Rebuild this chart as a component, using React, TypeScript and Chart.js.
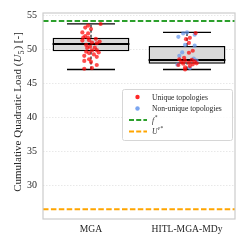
import React, { useEffect, useRef } from 'react';
import { Chart, registerables } from 'chart.js';
Chart.register(...registerables);

const categories = ['MGA', 'HITL-MGA-MDy'];
const boxQ1 = [49.66, 47.84];
const boxMedian = [50.74, 48.38];
const boxQ3 = [51.66, 50.44];
const whiskerLow = [47.0, 47.0];
const whiskerHigh = [53.7, 52.45];
const fStar = 54.12;
const uEpsStar = 26.43;
const yTicks = [30, 35, 40, 45, 50, 55];

const mgaUniqueValues = [53.68, 53.45, 53.15, 52.95, 52.45, 52.3, 51.9, 51.7, 51.65, 51.5, 51.25, 51.3, 51.1, 50.85, 50.95, 50.6, 50.35, 50.2, 50.15, 49.85, 49.8, 49.6, 49.5, 49.4, 49.2, 49.0, 48.85, 48.5, 48.25, 48.1, 47.65, 47.1, 47.2];
const mgaUniqueJitter = [0.1, -0.03, -0.06, 0.0, -0.09, -0.03, -0.06, -0.08, -0.03, 0.05, -0.09, -0.02, 0.09, 0.06, 0.01, -0.05, -0.01, 0.04, -0.04, 0.06, 0.01, -0.05, 0.08, -0.02, 0.03, -0.07, 0.06, -0.02, -0.07, 0.0, 0.06, -0.07, 0.01];
const hitlUniqueValues = [52.35, 51.65, 51.45, 50.9, 49.75, 49.45, 48.7, 48.5, 48.4, 48.3, 48.2, 48.1, 48.0, 47.9, 47.85, 47.75, 47.65, 47.5, 47.3, 47.0];
const hitlUniqueJitter = [0.09, 0.03, -0.01, 0.02, 0.06, 0.02, -0.03, -0.08, 0.05, -0.02, 0.08, -0.06, 0.02, 0.1, -0.04, 0.06, -0.09, 0.03, -0.02, -0.02];
const hitlNonUniqueValues = [52.45, 52.3, 52.1, 51.8, 50.6, 50.5, 49.5, 49.0, 48.6, 48.3, 47.7, 47.2];
const hitlNonUniqueJitter = [0.0, -0.04, 0.08, -0.09, -0.02, 0.08, -0.05, -0.08, 0.07, 0.1, -0.1, 0.03];

const FONT = "'Liberation Serif', 'DejaVu Serif', serif";
const TEXT = '#262626';

function drawParts(ctx: CanvasRenderingContext2D, parts: any[], x: number, y: number, align: 'center' | 'left') {
  let total = 0;
  const widths = parts.map((p) => {
    ctx.font = `${p.italic ? 'italic ' : ''}${p.size}px ${FONT}`;
    const w = ctx.measureText(p.t).width + (p.gap || 0);
    total += w;
    return w;
  });
  let cx = align === 'center' ? x - total / 2 : x;
  parts.forEach((p, i) => {
    ctx.font = `${p.italic ? 'italic ' : ''}${p.size}px ${FONT}`;
    ctx.fillText(p.t, cx, y + (p.dy || 0));
    cx += widths[i];
  });
}

const framePlugin = {
  id: 'frame',
  afterDatasetsDraw(chart: any) {
    const { ctx, chartArea: a } = chart;
    ctx.save();
    ctx.strokeStyle = '#cccccc';
    ctx.lineWidth = 1.2;
    ctx.strokeRect(a.left, a.top, a.right - a.left, a.bottom - a.top);
    ctx.restore();
  },
};

const titlePlugin = {
  id: 'ytitle',
  afterDraw(chart: any) {
    const { ctx, chartArea: a } = chart;
    ctx.save();
    ctx.translate(17.5, (a.top + a.bottom) / 2 - 4);
    ctx.rotate(-Math.PI / 2);
    ctx.fillStyle = TEXT;
    ctx.textBaseline = 'alphabetic';
    ctx.textAlign = 'left';
    drawParts(ctx, [
      { t: 'Cumulative Quadratic Load (', size: 11 },
      { t: 'U', size: 11, italic: true, gap: 0.3 },
      { t: '5', size: 8, dy: 2.2, gap: 0.8 },
      { t: ') [-]', size: 11 },
    ], 0, 3.8, 'center');
    ctx.restore();
  },
};

const legendItems = [
  { kind: 'dot', color: 'rgba(255,0,0,0.85)', parts: [{ t: 'Unique topologies', size: 7.6 }] },
  { kind: 'dot', color: 'rgba(100,149,237,0.85)', parts: [{ t: 'Non-unique topologies', size: 7.6 }] },
  { kind: 'line', color: '#2ca02c', parts: [{ t: 'f', size: 7.6, italic: true, gap: 0.6 }, { t: '*', size: 5.5, dy: -3 }] },
  { kind: 'line', color: '#ffa500', parts: [{ t: 'U', size: 7.6, italic: true, gap: 0.6 }, { t: 'ε*', size: 5.5, dy: -3, italic: true }] },
];
const legendRows = [97, 108.5, 120, 131.5];

const legendPlugin = {
  id: 'customLegend',
  afterDraw(chart: any) {
    const { ctx } = chart;
    ctx.save();
    const x = 122.5, y = 89.5, w = 110, h = 51, r = 2;
    ctx.beginPath();
    ctx.moveTo(x + r, y);
    ctx.arcTo(x + w, y, x + w, y + h, r);
    ctx.arcTo(x + w, y + h, x, y + h, r);
    ctx.arcTo(x, y + h, x, y, r);
    ctx.arcTo(x, y, x + w, y, r);
    ctx.closePath();
    ctx.fillStyle = 'rgba(255,255,255,0.85)';
    ctx.fill();
    ctx.strokeStyle = '#d6d6d6';
    ctx.lineWidth = 1;
    ctx.stroke();
    legendItems.forEach((it, i) => {
      const yy = legendRows[i];
      if (it.kind === 'dot') {
        ctx.beginPath();
        ctx.fillStyle = it.color;
        ctx.arc(137.5, yy, 2.2, 0, Math.PI * 2);
        ctx.fill();
      } else {
        ctx.beginPath();
        ctx.strokeStyle = it.color;
        ctx.lineWidth = 1.8;
        ctx.setLineDash([5, 2.2]);
        ctx.moveTo(129, yy);
        ctx.lineTo(147, yy);
        ctx.stroke();
        ctx.setLineDash([]);
      }
      ctx.fillStyle = TEXT;
      ctx.textBaseline = 'middle';
      ctx.textAlign = 'left';
      drawParts(ctx, it.parts, 152, yy + 0.5, 'left');
    });
    ctx.restore();
  },
};

export default function App() {
  const ref = useRef<HTMLCanvasElement | null>(null);
  useEffect(() => {
    if (!ref.current) return;
    const uniquePts = [
      ...mgaUniqueValues.map((v, i) => ({ x: 0 + mgaUniqueJitter[i], y: v })),
      ...hitlUniqueValues.map((v, i) => ({ x: 1 + hitlUniqueJitter[i], y: v })),
    ];
    const nonUniquePts = hitlNonUniqueValues.map((v, i) => ({ x: 1 + hitlNonUniqueJitter[i], y: v }));
    const seg = (pts: any[], color: string, width: number, dash: number[], order: number) => ({
      type: 'line',
      data: pts,
      borderColor: color,
      borderWidth: width,
      borderDash: dash,
      pointRadius: 0,
      fill: false,
      tension: 0,
      order,
    });
    const whiskerSets: any[] = [];
    const capSets: any[] = [];
    const medianSets: any[] = [];
    categories.forEach((_, i) => {
      whiskerSets.push(seg([{ x: i, y: whiskerLow[i] }, { x: i, y: boxQ1[i] }], '#000', 1.1, [3, 2], 3));
      whiskerSets.push(seg([{ x: i, y: boxQ3[i] }, { x: i, y: whiskerHigh[i] }], '#000', 1.1, [3, 2], 3));
      capSets.push(seg([{ x: i - 0.25, y: whiskerLow[i] }, { x: i + 0.25, y: whiskerLow[i] }], '#000', 1.4, [], 3));
      capSets.push(seg([{ x: i - 0.25, y: whiskerHigh[i] }, { x: i + 0.25, y: whiskerHigh[i] }], '#000', 1.4, [], 3));
      medianSets.push(seg([{ x: i - 0.4, y: boxMedian[i] }, { x: i + 0.4, y: boxMedian[i] }], '#000', 2, [], 2));
    });
    const chart = new Chart(ref.current, {
      type: 'scatter',
      data: {
        datasets: [
          {
            type: 'scatter',
            label: 'Unique topologies',
            data: uniquePts,
            backgroundColor: 'rgba(255,0,0,0.7)',
            borderWidth: 0,
            pointRadius: 2.1,
            order: 0,
          } as any,
          {
            type: 'scatter',
            label: 'Non-unique topologies',
            data: nonUniquePts,
            backgroundColor: 'rgba(100,149,237,0.7)',
            borderWidth: 0,
            pointRadius: 2.1,
            order: 0,
          } as any,
          seg([{ x: -0.5, y: fStar }, { x: 1.5, y: fStar }], '#2ca02c', 2, [5.5, 2.4], 1),
          seg([{ x: -0.5, y: uEpsStar }, { x: 1.5, y: uEpsStar }], '#ffa500', 2, [5.5, 2.4], 1),
          ...medianSets,
          ...capSets,
          ...whiskerSets,
          {
            type: 'bar',
            data: categories.map((_, i) => ({ x: i, y: [boxQ1[i], boxQ3[i]] })),
            backgroundColor: '#d9d9d9',
            borderColor: '#000',
            borderWidth: 1.4,
            borderSkipped: false,
            barPercentage: 0.8,
            categoryPercentage: 1,
            order: 10,
          } as any,
        ] as any,
      },
      options: {
        animation: false,
        responsive: false,
        devicePixelRatio: 1,
        layout: { padding: { left: 0, right: 11, top: 13, bottom: 0 } },
        plugins: { legend: { display: false }, tooltip: { enabled: false } },
        scales: {
          x: {
            type: 'linear',
            min: -0.5,
            max: 1.5,
            offset: false,
            afterBuildTicks: (s: any) => {
              s.ticks = categories.map((_, i) => ({ value: i }));
            },
            afterFit: (s: any) => {
              s.height = 27;
            },
            ticks: {
              callback: (_v: any, i: number) => categories[i],
              font: { family: FONT, size: 9.6 },
              color: TEXT,
              padding: 5,
              autoSkip: false,
              maxRotation: 0,
            },
            grid: { display: false, drawTicks: false, offset: false },
            border: { display: false },
          },
          y: {
            type: 'linear',
            min: 25,
            max: 55.3,
            afterBuildTicks: (s: any) => {
              s.ticks = yTicks.map((v) => ({ value: v }));
            },
            afterFit: (s: any) => {
              s.width = 43;
            },
            ticks: {
              font: { family: FONT, size: 10 },
              color: TEXT,
              padding: 6,
            },
            grid: { color: '#e2e2e2', lineWidth: 0.8, drawTicks: false },
            border: { display: false, dash: [1.5, 1.5] },
          },
        },
      } as any,
      plugins: [framePlugin, titlePlugin, legendPlugin],
    });
    return () => chart.destroy();
  }, []);
  return (
    <div style={{ position: 'fixed', left: 0, top: 0, width: 246, height: 246, background: '#fff' }}>
      <canvas ref={ref} width={246} height={246} style={{ display: 'block' }} />
    </div>
  );
}
